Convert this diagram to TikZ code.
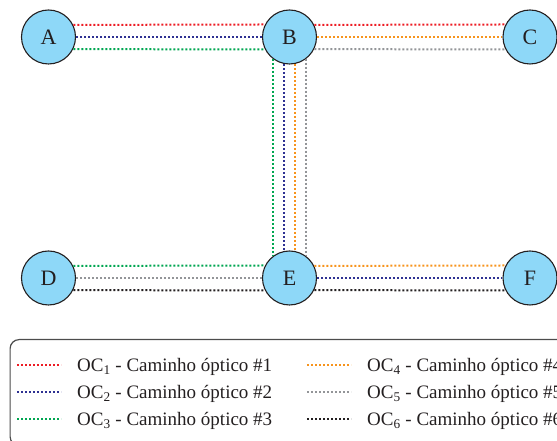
\documentclass[tikz,border=0pt]{standalone}
\usepackage{fontspec}
\setmainfont{Liberation Serif}
\definecolor{ocred}{HTML}{ED1C24}
\definecolor{ocblue}{HTML}{2E3192}
\definecolor{ocgreen}{HTML}{00A651}
\definecolor{ocorange}{HTML}{F7941D}
\definecolor{ocgray}{HTML}{939598}
\definecolor{ocblack}{HTML}{231F20}
\definecolor{nodefill}{HTML}{8ED8F8}
\tikzset{
  netnode/.style={circle, draw=ocblack, line width=1.1pt, fill=nodefill, minimum size=54pt, inner sep=0pt, text=ocblack, font=\fontsize{22}{22}\selectfont},
  ocpath/.style={line width=2pt, dash pattern=on 2pt off 2pt},
  legline/.style={line width=2pt, dash pattern=on 2pt off 2pt},
  legtext/.style={anchor=base west, inner sep=0pt, text=ocblack, font=\fontsize{19}{19}\selectfont}
}
\begin{document}
\begin{tikzpicture}[x=1pt,y=1pt]
\useasboundingbox (0,0) rectangle (557,441);
\clip (0,0) rectangle (557,441);
\path (48.5,404) coordinate (cA) (289.5,404) coordinate (cB) (530,404) coordinate (cC)
      (48.5,163) coordinate (cD) (289.5,163) coordinate (cE) (530,163) coordinate (cF);
\node[netnode] (A) at (cA) {A};
\node[netnode] (B) at (cB) {B};
\node[netnode] (C) at (cC) {C};
\node[netnode] (D) at (cD) {D};
\node[netnode] (E) at (cE) {E};
\node[netnode] (F) at (cF) {F};
% A-B
\draw[ocpath, ocred]   (A.26.4) -- (B.153.6);
\draw[ocpath, ocblue]  (A.east) -- (B.west);
\draw[ocpath, ocgreen] (A.-26.4) -- (B.-153.6);
% B-C
\draw[ocpath, ocred]    (B.26.4) -- (C.153.6);
\draw[ocpath, ocorange] (B.east) -- (C.west);
\draw[ocpath, ocgray]   (B.-26.4) -- (C.-153.6);
% B-E
\draw[ocpath, ocgreen]  (B.-127.67) -- (E.127.67);
\draw[ocpath, ocblue]   (B.-101.75) -- (E.101.75);
\draw[ocpath, ocorange] (B.-78.25) -- (E.78.25);
\draw[ocpath, ocgray]   (B.-52.33) -- (E.52.33);
% D-E
\draw[ocpath, ocgreen] (D.26.4) -- (E.153.6);
\draw[ocpath, ocgray]  (D.east) -- (E.west);
\draw[ocpath, ocblack] (D.-26.4) -- (E.-153.6);
% E-F
\draw[ocpath, ocorange] (E.26.4) -- (F.153.6);
\draw[ocpath, ocblue]   (E.east) -- (F.west);
\draw[ocpath, ocblack]  (E.-26.4) -- (F.-153.6);
% legend
\node[draw=black!70, line width=1.2pt, rounded corners=9pt, minimum width=600pt, minimum height=106pt, anchor=north west, inner sep=0pt] (legend) at (9.5,102) {};
\coordinate (l1a) at (17,75.5);  \coordinate (l1b) at (61,75.5);
\coordinate (l2a) at (17,48.5);  \coordinate (l2b) at (61,48.5);
\coordinate (l3a) at (17,21.5);  \coordinate (l3b) at (61,21.5);
\coordinate (l4a) at (307,75.5); \coordinate (l4b) at (351,75.5);
\coordinate (l5a) at (307,48.5); \coordinate (l5b) at (351,48.5);
\coordinate (l6a) at (307,21.5); \coordinate (l6b) at (351,21.5);
\draw[legline, ocred]    (l1a) -- (l1b);
\draw[legline, ocblue]   (l2a) -- (l2b);
\draw[legline, ocgreen]  (l3a) -- (l3b);
\draw[legline, ocorange] (l4a) -- (l4b);
\draw[legline, ocgray]   (l5a) -- (l5b);
\draw[legline, ocblack]  (l6a) -- (l6b);
\node[legtext] (t1) at (77,69) {OC\textsubscript{1} - Caminho óptico \#1};
\node[legtext] (t2) at (77,42) {OC\textsubscript{2} - Caminho óptico \#2};
\node[legtext] (t3) at (77,15) {OC\textsubscript{3} - Caminho óptico \#3};
\node[legtext] (t4) at (367,69) {OC\textsubscript{4} - Caminho óptico \#4};
\node[legtext] (t5) at (367,42) {OC\textsubscript{5} - Caminho óptico \#5};
\node[legtext] (t6) at (367,15) {OC\textsubscript{6} - Caminho óptico \#6};
\end{tikzpicture}
\end{document}
